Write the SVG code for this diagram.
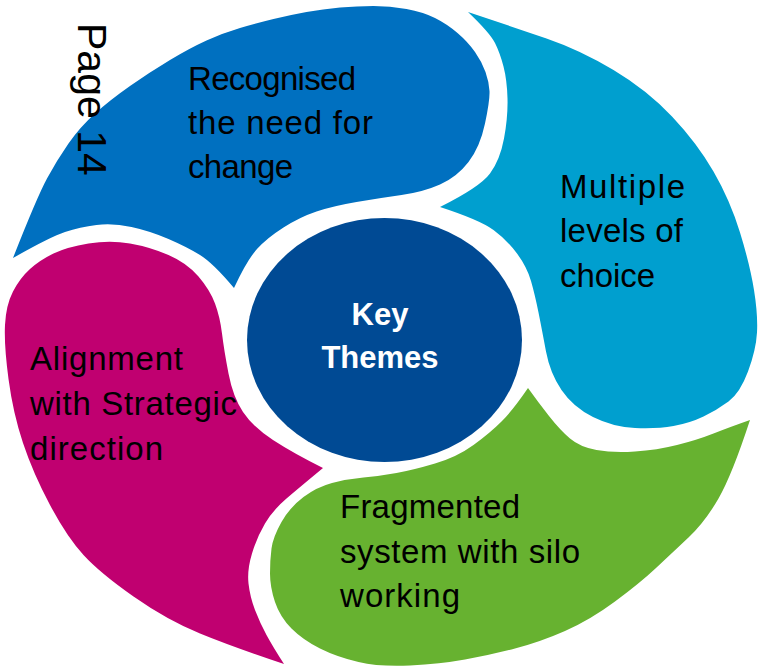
<svg xmlns="http://www.w3.org/2000/svg" width="761" height="671" viewBox="0 0 761 671">
<style>
.lbl{font-family:"Liberation Sans",Arial,sans-serif;font-size:33px;fill:#000}
.key{font-family:"Liberation Sans",Arial,sans-serif;font-size:31px;font-weight:bold;fill:#fff;text-anchor:middle}
.pg{font-family:"Liberation Sans",Arial,sans-serif;font-size:41px;fill:#000}
</style>
<rect width="761" height="671" fill="#fff"/>
<g id="recognised">
<path fill="#0070C0" d="M13,258 Q37,197 47,178.5 Q57,160 68.5,143.5 Q80,127 95,113.5 Q110,100 130,86 Q150,72 170,60 Q190,48 206.5,40.5 Q223,33 240,28 Q257,23 273.5,19 Q290,15 306.5,12 Q323,9 340,7.5 Q357,6 373.5,6 Q390,6 406.5,9 Q423,12 435,18 Q447,24 457.5,33 Q468,42 475,52 Q482,62 485.5,72 Q489,82 489.5,91 Q490,100 485,123.5 Q480,147 468.5,162 Q457,177 440,184.5 Q423,192 401.5,195 Q380,198 356.5,202 Q333,206 316.5,211.5 Q300,217 283.5,227.5 Q267,238 257,249 Q247,260 234,288 Q213,263 200,255 Q187,247 168.5,239 Q150,231 131.5,227 Q113,223 96.5,225 Q80,227 65,232 Q50,237 13,258 Z"/>
<text class="lbl" x="188" y="90" textLength="168">Recognised</text>
<text class="lbl" x="188" y="134" textLength="185">the need for</text>
<text class="lbl" x="188" y="178" textLength="105">change</text>
</g>
<g id="multiple">
<path fill="#009FCF" d="M468,12 Q513,27 546.5,38.5 Q580,50 613.5,70 Q647,90 672,116.5 Q697,143 713.5,171.5 Q730,200 740,232.5 Q750,265 754,290 Q758,315 757,332.5 Q756,350 748,371.5 Q740,393 728.5,401.5 Q717,410 703.5,416.5 Q690,423 673.5,426 Q657,429 635,428 Q613,427 593,417 Q573,407 561.5,390 Q550,373 546,351.5 Q542,330 538.5,312.5 Q535,295 531,281 Q527,267 517,253.5 Q507,240 493.5,230 Q480,220 440,207 Q480,187 490,173.5 Q500,160 504,138.5 Q508,117 507.5,98.5 Q507,80 503.5,66.5 Q500,53 495,43 Q490,33 468,12 Z"/>
<text class="lbl" x="560" y="198" textLength="125">Multiple</text>
<text class="lbl" x="560" y="242" textLength="123">levels of</text>
<text class="lbl" x="560" y="287" textLength="95">choice</text>
</g>
<g id="fragmented">
<path fill="#67B230" d="M750,420 Q732,475 718.5,498.5 Q705,522 688.5,537.5 Q672,553 656,568 Q640,583 615,601.5 Q590,620 565,631 Q540,642 515,648.5 Q490,655 465,659.5 Q440,664 410,665.5 Q380,667 358.5,662 Q337,657 320,648.5 Q303,640 291.5,628.5 Q280,617 275,602 Q270,587 270,573.5 Q270,560 271.5,548.5 Q273,537 281.5,522 Q290,507 303.5,497 Q317,487 332,483 Q347,479 363.5,477.5 Q380,476 396.5,473 Q413,470 435,463.5 Q457,457 473.5,445 Q490,433 501.5,421.5 Q513,410 528,388 Q538,402 549,416 Q560,430 570,438.5 Q580,447 596.5,450 Q613,453 635,451.5 Q657,450 677,445 Q697,440 713.5,433.5 Q730,427 750,420 Z"/>
<text class="lbl" x="340" y="518" textLength="180">Fragmented</text>
<text class="lbl" x="340" y="563" textLength="240">system with silo</text>
<text class="lbl" x="340" y="607" textLength="120">working</text>
</g>
<g id="alignment">
<path fill="#C00070" d="M284,664 Q233,647 200,633.5 Q167,620 133.5,596.5 Q100,573 83.5,555 Q67,537 50,505 Q33,473 23,443 Q13,413 8.5,379 Q4,345 5,325 Q6,305 13,291.5 Q20,278 30,269 Q40,260 53.5,253.5 Q67,247 88.5,243.5 Q110,240 130,243.5 Q150,247 168.5,255 Q187,263 198.5,276.5 Q210,290 215,303.5 Q220,317 222,333.5 Q224,350 228.5,373.5 Q233,397 243,412 Q253,427 273,440 Q293,453 323,468 Q300,487 286.5,498.5 Q273,510 265,523.5 Q257,537 252,553.5 Q247,570 248.5,583.5 Q250,597 255,610 Q260,623 266.5,635 Q273,647 284,664 Z"/>
<text class="lbl" x="30" y="370" textLength="153">Alignment</text>
<text class="lbl" x="30" y="415" textLength="207">with Strategic</text>
<text class="lbl" x="30" y="460" textLength="133">direction</text>
</g>
<g id="key-themes">
<ellipse cx="384.5" cy="340" rx="137.5" ry="122" fill="#004A94"/>
<text class="key" x="380" y="325">Key</text>
<text class="key" x="380" y="368">Themes</text>
</g>
<g id="page-label">
<text class="pg" transform="translate(78,23) rotate(90)">Page 14</text>
</g>
<g id="connectors"></g>
</svg>
